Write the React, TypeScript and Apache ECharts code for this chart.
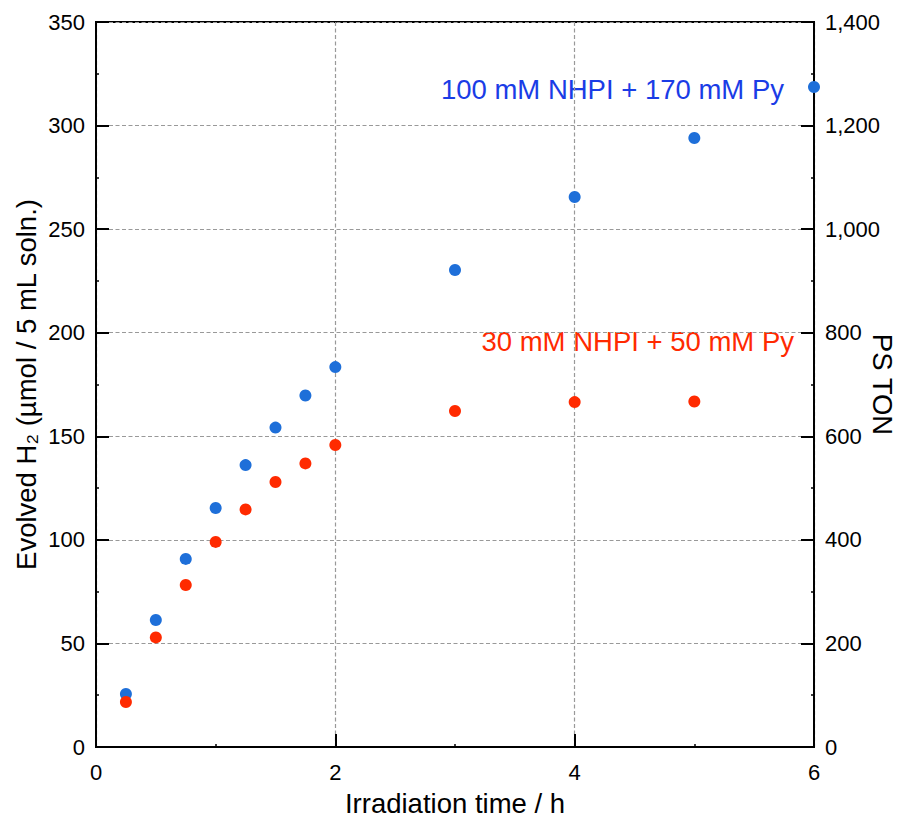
import React, { useEffect, useRef } from "react";
import * as echarts from "echarts";

const timesBlue = [0.25, 0.5, 0.75, 1, 1.25, 1.5, 1.75, 2, 3, 4, 5, 6];
const h2Blue = [25.6, 61.3, 90.8, 115.4, 136.1, 154.2, 169.7, 183.4, 230.3, 265.5, 294, 318.6];
const timesRed = [0.25, 0.5, 0.75, 1, 1.25, 1.5, 1.75, 2, 3, 4, 5];
const h2Red = [21.7, 52.9, 78.2, 99, 114.7, 127.9, 136.9, 145.8, 162.2, 166.5, 166.8];
const blueLabel = "100 mM NHPI + 170 mM Py";
const redLabel = "30 mM NHPI + 50 mM Py";
const xTitle = "Irradiation time / h";
const yTitle = "Evolved H₂ (µmol / 5 mL soln.)";
const y2Title = "PS TON";

const FONT = "Liberation Sans, Arial, Helvetica, sans-serif";
const W = 902;
const H = 819;

export default function App() {
  const ref = useRef<HTMLDivElement>(null);
  useEffect(() => {
    document.body.style.margin = "0";
    const chart = echarts.init(ref.current!, null, { renderer: "svg", width: W, height: H });
    const axisLine = { show: true, lineStyle: { color: "#000", width: 2 } };
    const split = { show: true, lineStyle: { color: "#999", type: [4, 2.5], width: 1.2 } };
    const tick = { show: true, inside: true, length: 13, lineStyle: { color: "#000", width: 2 } };
    const minor = { show: true, splitNumber: 2, length: 3, lineStyle: { color: "#000", width: 1.5 } };
    const nameStyle = { fontSize: 27.5, color: "#000", fontFamily: FONT };
    chart.setOption({
      animation: false,
      backgroundColor: "#fff",
      textStyle: { fontFamily: FONT },
      grid: {
        left: 96, right: 88, top: 22, bottom: 72,
        containLabel: false, outerBoundsMode: "none",
        show: true, borderColor: "#000", borderWidth: 2, backgroundColor: "transparent",
      },
      xAxis: [
        {
          type: "value", min: 0, max: 6, interval: 2,
          name: xTitle, nameLocation: "middle", nameGap: 42, nameMoveOverlap: false,
          nameTextStyle: nameStyle,
          axisLine, axisTick: tick, minorTick: minor,
          axisLabel: { fontSize: 22, color: "#000", margin: 14, fontFamily: FONT },
          splitLine: split,
        },
      ],
      yAxis: [
        {
          type: "value", min: 0, max: 350, interval: 50,
          name: yTitle, nameLocation: "middle", nameGap: 56, nameRotate: 90, nameMoveOverlap: false,
          nameTextStyle: nameStyle,
          axisLine, axisTick: tick, minorTick: minor,
          axisLabel: { fontSize: 22, color: "#000", margin: 11, fontFamily: FONT },
          splitLine: split,
        },
        {
          type: "value", min: 0, max: 1400, interval: 200, position: "right",
          name: y2Title, nameLocation: "middle", nameGap: 54, nameRotate: -90, nameMoveOverlap: false,
          nameTextStyle: nameStyle,
          axisLine, axisTick: tick, minorTick: minor,
          axisLabel: {
            fontSize: 22, color: "#000", margin: 11, fontFamily: FONT,
            formatter: (v: number) => v.toLocaleString("en-US"),
          },
          splitLine: { show: false },
        },
      ],
      series: [
        {
          type: "scatter", name: blueLabel, yAxisIndex: 0,
          data: timesBlue.map((t, i) => [t, h2Blue[i]]),
          symbolSize: 12, itemStyle: { color: "#1e6fd9", opacity: 1 }, z: 3,
        },
        {
          type: "scatter", name: redLabel, yAxisIndex: 0,
          data: timesRed.map((t, i) => [t, h2Red[i]]),
          symbolSize: 12, itemStyle: { color: "#ff2a00", opacity: 1 }, z: 4,
        },
      ],
      graphic: [
        {
          type: "text", x: 784, y: 89,
          style: { text: blueLabel, fontSize: 27.5, fill: "#1a3ce6", fontFamily: FONT, align: "right", verticalAlign: "middle" },
        },
        {
          type: "text", x: 794, y: 341,
          style: { text: redLabel, fontSize: 27.5, fill: "#ff2a00", fontFamily: FONT, align: "right", verticalAlign: "middle" },
        },
      ],
    });
    return () => chart.dispose();
  }, []);
  return <div ref={ref} style={{ position: "fixed", left: 0, top: 0, width: W, height: H }} />;
}
